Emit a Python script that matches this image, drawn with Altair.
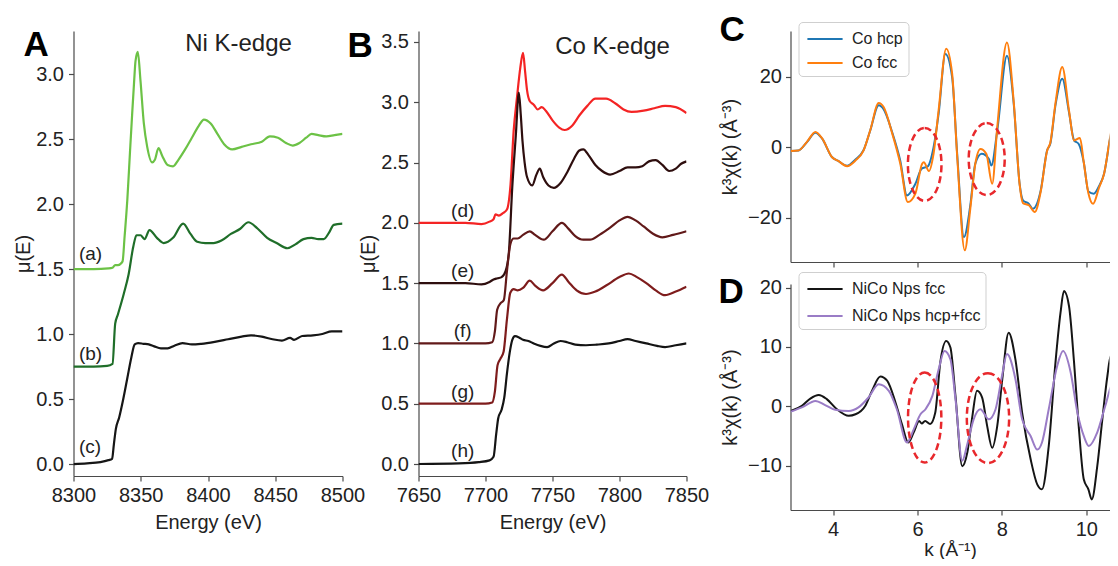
import altair as alt
import pandas as pd

FONT = "Liberation Sans"
INK = "#222222"
AXIS_COLOR = "#4a4a4a"

# ---------------- Panel A : Ni K-edge ----------------
a_E = [8300, 8315, 8326, 8329, 8331, 8333, 8335, 8336.5, 8338, 8340, 8342, 8343.6, 8345, 8346.1, 8347.8,
       8349.8, 8352.3, 8354.8, 8358.5, 8360.5, 8363.2, 8366, 8370, 8374, 8378, 8383, 8388, 8393, 8397, 8402,
       8407, 8412, 8418, 8425, 8432, 8440, 8446, 8452, 8458, 8463, 8468, 8473, 8477, 8482, 8488, 8494, 8500]
a_mu = [1.50, 1.50, 1.505, 1.51, 1.53, 1.53, 1.54, 1.56, 1.75, 2.03, 2.40, 2.69, 2.93, 3.10, 3.17,
        2.95, 2.62, 2.44, 2.32, 2.34, 2.43, 2.37, 2.30, 2.29, 2.34, 2.42, 2.51, 2.60, 2.65, 2.62,
        2.54, 2.46, 2.42, 2.44, 2.46, 2.48, 2.52, 2.51, 2.47, 2.45, 2.47, 2.51, 2.54, 2.53, 2.52, 2.53, 2.54]
b_E = [8300, 8315, 8325, 8329, 8331, 8333, 8337.4, 8341, 8344.4, 8346.8, 8349.8, 8352.8, 8356.5, 8362,
       8367, 8374, 8381.5, 8387, 8392, 8398, 8404, 8410, 8417, 8424, 8430, 8437, 8444, 8451, 8459, 8465,
       8471, 8477, 8482, 8486, 8490, 8493.5, 8500]
b_mu = [0.75, 0.75, 0.755, 0.77, 1.08, 1.15, 1.31, 1.46, 1.67, 1.76, 1.76, 1.73, 1.80, 1.74,
        1.70, 1.74, 1.85, 1.77, 1.71, 1.70, 1.70, 1.72, 1.77, 1.81, 1.86, 1.81, 1.74, 1.70, 1.66, 1.69,
        1.73, 1.74, 1.73, 1.73, 1.78, 1.84, 1.85]
c_E = [8300, 8310, 8320, 8326, 8328.7, 8330, 8331.5, 8334, 8337, 8340, 8343, 8345.5, 8348, 8352, 8356,
       8360, 8365, 8370, 8375, 8381, 8388, 8395, 8405, 8415, 8425, 8432, 8440, 8448, 8455, 8461, 8464,
       8470, 8478, 8485, 8492, 8500]
c_mu = [0.0, 0.005, 0.015, 0.03, 0.04, 0.15, 0.27, 0.36, 0.50, 0.66, 0.82, 0.92, 0.93, 0.925, 0.92,
        0.905, 0.89, 0.89, 0.91, 0.93, 0.92, 0.925, 0.94, 0.96, 0.98, 0.99, 0.98, 0.96, 0.95, 0.97, 0.955,
        0.985, 0.99, 1.0, 1.02, 1.02]
A_names = ["a", "b", "c"]
A_colors = ["#6cc246", "#1f6e29", "#161616"]
A_xticks = [8300, 8350, 8400, 8450, 8500]
A_yticks = [0.0, 0.5, 1.0, 1.5, 2.0, 2.5, 3.0]
labA_text = ["(a)", "(b)", "(c)"]
labA_E = [8304, 8304, 8304]
labA_mu = [1.615, 0.846, 0.13]
headA = ["Ni K-edge"]
headA_E = [8383]
headA_mu = [3.23]

# ---------------- Panel B : Co K-edge ----------------
d_E = [7650, 7670, 7685, 7697, 7703, 7706, 7707.5, 7710, 7713, 7716, 7718.7, 7721, 7723.5, 7726, 7728,
       7729.6, 7731, 7733, 7736, 7739, 7742, 7745, 7750, 7755, 7759, 7765, 7770, 7776, 7782, 7790,
       7797, 7803, 7809, 7818, 7826, 7834, 7842, 7850]
d_mu = [2.0, 2.0, 2.0, 1.99, 2.01, 2.03, 2.07, 2.06, 2.08, 2.11, 2.32, 2.76, 3.04, 3.29, 3.41,
        3.25, 3.10, 3.01, 2.98, 2.94, 2.96, 2.93, 2.85, 2.79, 2.77, 2.81, 2.89, 2.97, 3.03, 3.03,
        2.99, 2.94, 2.92, 2.93, 2.95, 2.97, 2.96, 2.91]
e_E = [7650, 7670, 7685, 7697, 7703, 7706, 7709, 7712, 7715, 7717.4, 7720, 7722.6, 7724.9, 7726.3,
       7727.6, 7729.2, 7731, 7734.8, 7738, 7740.5, 7743, 7747, 7751, 7756, 7761, 7766, 7770, 7773, 7777,
       7782, 7787, 7793, 7800, 7806, 7812, 7817, 7822, 7827, 7832, 7837, 7842, 7846, 7850]
e_mu = [1.5, 1.5, 1.5, 1.49, 1.51, 1.53, 1.54, 1.55, 1.60, 1.75, 2.30, 2.72, 3.08, 2.90,
        2.68, 2.50, 2.38, 2.31, 2.40, 2.45, 2.38, 2.31, 2.29, 2.33, 2.42, 2.53, 2.60, 2.61, 2.56,
        2.48, 2.43, 2.40, 2.43, 2.46, 2.46, 2.47, 2.51, 2.52, 2.48, 2.43, 2.45, 2.49, 2.51]
f_E = [7650, 7680, 7700, 7705, 7707, 7708.7, 7711, 7713.7, 7716, 7718.7, 7721, 7724, 7728, 7733, 7737,
       7743.5, 7750, 7757, 7762, 7767, 7773, 7778, 7785, 7793, 7800, 7806, 7812, 7818, 7825, 7832, 7840, 7850]
f_mu = [1.0, 1.0, 1.0, 1.01, 1.10, 1.28, 1.33, 1.36, 1.60, 1.83, 1.87, 1.87, 1.90, 1.93, 1.90,
        1.86, 1.93, 2.00, 1.95, 1.89, 1.86, 1.86, 1.90, 1.96, 2.02, 2.05, 2.02, 1.97, 1.91, 1.88, 1.90, 1.93]
g_E = [7650, 7680, 7700, 7705, 7707, 7709, 7711, 7713.5, 7716, 7718.5, 7721, 7724, 7728, 7733, 7737,
       7743, 7750, 7757, 7762, 7768, 7775, 7782, 7790, 7800, 7807, 7813, 7820, 7827, 7834, 7842, 7850]
g_mu = [0.5, 0.5, 0.5, 0.51, 0.60, 0.82, 0.87, 0.93, 1.20, 1.42, 1.45, 1.44, 1.46, 1.52, 1.48,
        1.44, 1.50, 1.57, 1.51, 1.44, 1.41, 1.43, 1.48, 1.55, 1.58, 1.55, 1.50, 1.44, 1.40, 1.43, 1.47]
h_E = [7650, 7680, 7695, 7703, 7706, 7708, 7709.5, 7712, 7714, 7716, 7718, 7720, 7722, 7725, 7728,
       7732, 7736, 7741, 7746, 7751, 7756, 7761, 7767, 7775, 7783, 7792, 7800, 7806, 7812, 7820,
       7828, 7834, 7842, 7850]
h_mu = [0.0, 0.005, 0.015, 0.03, 0.06, 0.25, 0.38, 0.45, 0.55, 0.75, 0.92, 1.03, 1.06, 1.05, 1.03,
        1.02, 1.0, 0.98, 0.97, 1.0, 1.02, 1.01, 0.99, 0.985, 0.99, 1.0, 1.02, 1.035, 1.02, 1.0,
        0.98, 0.97, 0.985, 1.0]
B_names = ["d", "e", "f", "g", "h"]
B_colors = ["#f42424", "#2e0e0e", "#611919", "#7e1c1c", "#141414"]
B_xticks = [7650, 7700, 7750, 7800, 7850]
B_yticks = [0.0, 0.5, 1.0, 1.5, 2.0, 2.5, 3.0, 3.5]
labB_text = ["(d)", "(e)", "(f)", "(g)", "(h)"]
labB_E = [7683, 7683, 7683, 7683, 7683]
labB_mu = [2.10, 1.60, 1.10, 0.60, 0.108]
headB = ["Co K-edge"]
headB_E = [7752]
headB_mu = [3.46]

# ---------------- Panel C : Co references (EXAFS) ----------------
hcp_k = [3.0, 3.18, 3.38, 3.58, 3.74, 3.97, 4.13, 4.33, 4.53, 4.72, 4.88, 5.08, 5.2, 5.4, 5.59, 5.75, 5.95,
         6.1, 6.24, 6.38, 6.5, 6.66, 6.82, 6.94, 7.1, 7.25, 7.37, 7.52, 7.69, 7.75, 7.89, 8.12, 8.28, 8.42,
         8.5, 8.64, 8.73, 8.92, 9.07, 9.15, 9.27, 9.43, 9.59, 9.71, 9.82, 9.94, 10.05, 10.18, 10.3, 10.42,
         10.58, 10.77]
hcp_v = [-1.0, -0.85, 1.5, 4.2, 2.5, -2.7, -3.9, -5.2, -3.4, -0.8, 4.8, 12.0, 10.8, 4.3, -3.7, -13.6, -10.3,
         -6.0, -5.4, 0.0, 9.5, 26.5, 20.0, -1.8, -25.4, -16.5, -4.6, -1.8, -3.2, -5.1, 4.8, 26.0, 12.4, -10.3,
         -15.0, -16.0, -17.4, -12.2, -0.9, 1.2, 12.0, 19.5, 10.0, 2.0, 1.0, -4.2, -12.5, -13.1, -11.0, -7.5,
         3.5, 10.5]
fcc_k = [3.0, 3.18, 3.38, 3.58, 3.74, 3.97, 4.13, 4.33, 4.53, 4.72, 4.88, 5.08, 5.2, 5.4, 5.59, 5.77, 5.95,
         6.11, 6.15, 6.27, 6.38, 6.5, 6.68, 6.82, 6.94, 7.12, 7.25, 7.37, 7.49, 7.63, 7.77, 7.89, 8.12, 8.28,
         8.42, 8.5, 8.64, 8.78, 8.92, 9.07, 9.15, 9.27, 9.43, 9.59, 9.71, 9.85, 9.94, 10.05, 10.16, 10.3,
         10.42, 10.58, 10.77]
fcc_v = [-1.0, -0.85, 1.6, 4.4, 2.6, -2.7, -3.9, -5.3, -3.7, -0.9, 4.9, 12.6, 11.4, 4.0, -4.5, -15.5, -13.1,
         -4.6, -4.2, -6.7, -1.8, 10.5, 28.0, 21.0, -2.5, -29.2, -17.5, -4.6, -0.4, -1.8, -10.3, 5.8, 29.8, 13.0,
         -10.5, -15.8, -16.4, -18.3, -12.5, -1.0, 1.5, 12.6, 22.8, 10.5, 2.0, 2.7, -4.2, -13.0, -16.0, -11.5,
         -7.5, 3.9, 13.8]
C_names = ["Co hcp", "Co fcc"]
C_colors = ["#1f77b4", "#ff7f0e"]
ellC_k = [6.17, 7.64]
ellC_v = [-4.8, -3.3]

# ---------------- Panel D : NiCo nanoparticles (EXAFS) ----------------
nfcc_k = [3.0, 3.26, 3.46, 3.66, 3.85, 4.09, 4.37, 4.53, 4.76, 4.92, 5.12, 5.28, 5.48, 5.63, 5.78, 5.91,
          6.04, 6.1, 6.18, 6.3, 6.42, 6.54, 6.68, 6.78, 6.9, 7.06, 7.18, 7.29, 7.41, 7.53, 7.65, 7.77, 7.89,
          8.01, 8.16, 8.32, 8.48, 8.68, 8.84, 8.95, 9.11, 9.27, 9.39, 9.47, 9.59, 9.71, 9.82, 9.94, 10.05,
          10.13, 10.26, 10.38, 10.5, 10.58, 10.7, 10.77]
nfcc_v = [-0.8, 0.06, 1.3, 1.9, 1.2, -0.5, -1.6, -1.35, 0.06, 2.6, 5.0, 4.3, 0.6, -3.0, -6.1, -4.4,
          -2.5, -2.9, -2.5, -3.0, -1.1, 7.4, 11.0, 9.9, 1.7, -10.1, -7.8, -2.2, 2.6, 1.5, -3.3, -7.0, -3.3,
          4.6, 12.4, 7.9, -1.1, -8.9, -13.2, -14.0, -6.7, 7.4, 15.8, 19.4, 16.9, 7.4, -3.3, -12.3, -14.0,
          -15.7, -10.1, -2.2, 5.1, 8.5, 6.2, 5.1]
nmix_k = [3.0, 3.26, 3.58, 3.81, 4.05, 4.37, 4.6, 4.84, 5.08, 5.32, 5.51, 5.75, 5.91, 6.07, 6.19, 6.35,
          6.5, 6.64, 6.78, 6.9, 7.06, 7.18, 7.33, 7.49, 7.69, 7.85, 8.01, 8.12, 8.32, 8.48, 8.68, 8.84,
          8.95, 9.11, 9.31, 9.45, 9.63, 9.79, 9.94, 10.06, 10.26, 10.46, 10.62, 10.77]
nmix_v = [-0.9, -0.2, 0.9, 0.2, -0.6, -0.8, -0.2, 1.5, 3.7, 2.6, -0.5, -6.1, -3.9, -1.35, -0.5, 1.7,
          6.2, 9.3, 7.9, 1.2, -9.2, -6.4, -2.2, -0.5, -2.2, -0.5, 5.4, 8.8, 4.6, -2.2, -5.0, -7.3,
          -6.1, -0.5, 6.8, 9.3, 5.7, -1.1, -5.0, -6.7, -4.4, 0.3, 3.7, 2.9]
D_names = ["NiCo Nps fcc", "NiCo Nps hcp+fcc"]
D_colors = ["#151515", "#9a7cc6"]
ellD_k = [6.17, 7.67]
ellD_v = [-1.9, -2.0]

K_ticks = [4, 6, 8, 10]
C_yticks = [-20, 0, 20]
D_yticks = [-10, 0, 10, 20]
panel_letters = ["A", "B", "C", "D"]

# ---------------- helpers ----------------
RED = "#e8282c"


def ellipse_path(rx):
    return f"M0,-1A{rx},1 0 1,1 0,1A{rx},1 0 1,1 0,-1Z"


def letter(t, dx, dy):
    return alt.Chart(pd.DataFrame({"t": [t]})).mark_text(
        align="left", baseline="top", font=FONT, fontSize=35, fontWeight="bold", color="black"
    ).encode(x=alt.value(dx), y=alt.value(dy), text="t:N")


def marker(dx, dy):
    return alt.Chart(pd.DataFrame({"m": [0]})).mark_point(
        size=1, opacity=0, filled=True, strokeWidth=0
    ).encode(x=alt.value(dx), y=alt.value(dy))


def leg(ly, rowpad):
    return alt.Legend(
        orient="none", legendX=8, legendY=ly, title=None,
        symbolType="M-1.6,0H1.6", symbolSize=484, symbolStrokeWidth=2,
        symbolOffset=9.5, labelOffset=15, padding=5, rowPadding=rowpad,
        strokeColor="#cfcfcf", cornerRadius=4, fillColor="white",
        labelFont=FONT, labelFontSize=16, labelColor=INK,
    )


# ---------------- Panel A chart ----------------
dfA = pd.concat([pd.DataFrame({"eA": x, "muA": y, "sA": n})
                 for x, y, n in [(a_E, a_mu, "a"), (b_E, b_mu, "b"), (c_E, c_mu, "c")]])
xA = alt.X("eA:Q", scale=alt.Scale(domain=[8300, 8500], nice=False, zero=False),
           axis=alt.Axis(values=A_xticks, format="d", title="Energy (eV)", titlePadding=7, labelPadding=4))
yA = alt.Y("muA:Q", scale=alt.Scale(domain=[-0.092, 3.331], nice=False, zero=False),
           axis=alt.Axis(values=A_yticks, format=".1f", title="μ(E)", titlePadding=2, labelPadding=5))
linesA = alt.Chart(dfA).mark_line(strokeWidth=2.2, clip=True, interpolate="monotone").encode(
    x=xA, y=yA, color=alt.Color("sA:N", scale=alt.Scale(domain=A_names, range=A_colors), legend=None))
labelsA = alt.Chart(pd.DataFrame({"eA": labA_E, "muA": labA_mu, "t": labA_text})).mark_text(
    align="left", baseline="middle", font=FONT, fontSize=19, color=INK).encode(x=xA, y=yA, text="t:N")
headA_c = alt.Chart(pd.DataFrame({"eA": headA_E, "muA": headA_mu, "t": headA})).mark_text(
    align="left", baseline="middle", font=FONT, fontSize=24, color=INK).encode(x=xA, y=yA, text="t:N")
chartA = alt.layer(linesA, labelsA, headA_c, letter(panel_letters[0], -50, -3), marker(-62, -9)).properties(
    width=269, height=445)

# ---------------- Panel B chart ----------------
dfB = pd.concat([pd.DataFrame({"eB": x, "muB": y, "sB": n})
                 for x, y, n in [(d_E, d_mu, "d"), (e_E, e_mu, "e"), (f_E, f_mu, "f"),
                                 (g_E, g_mu, "g"), (h_E, h_mu, "h")]])
xB = alt.X("eB:Q", scale=alt.Scale(domain=[7650, 7850], nice=False, zero=False),
           axis=alt.Axis(values=B_xticks, format="d", title="Energy (eV)", titlePadding=7, labelPadding=4))
yB = alt.Y("muB:Q", scale=alt.Scale(domain=[-0.0995, 3.591], nice=False, zero=False),
           axis=alt.Axis(values=B_yticks, format=".1f", title="μ(E)", titlePadding=2, labelPadding=5))
linesB = alt.Chart(dfB).mark_line(strokeWidth=2.2, clip=True, interpolate="monotone").encode(
    x=xB, y=yB, color=alt.Color("sB:N", scale=alt.Scale(domain=B_names, range=B_colors), legend=None))
labelsB = alt.Chart(pd.DataFrame({"eB": labB_E, "muB": labB_mu, "t": labB_text})).mark_text(
    align="center", baseline="middle", font=FONT, fontSize=19, color=INK).encode(x=xB, y=yB, text="t:N")
headB_c = alt.Chart(pd.DataFrame({"eB": headB_E, "muB": headB_mu, "t": headB})).mark_text(
    align="left", baseline="middle", font=FONT, fontSize=24, color=INK).encode(x=xB, y=yB, text="t:N")
chartB = alt.layer(linesB, labelsB, headB_c, letter(panel_letters[1], -71, -2), marker(290, 100)).properties(
    width=268, height=445)

# ---------------- Panel C chart ----------------
xC = alt.X("kC:Q", scale=alt.Scale(domain=[2.99, 10.55], nice=False, zero=False),
           axis=alt.Axis(values=K_ticks, labels=False, title=None))
yC = alt.Y("vC:Q", scale=alt.Scale(domain=[-32.5, 33.05], nice=False, zero=False),
           axis=alt.Axis(values=C_yticks, title="k³χ(k) (Å⁻³)", titlePadding=7, labelPadding=4,
                         titleFontSize=20))
colC = alt.Color("sC:N", scale=alt.Scale(domain=C_names, range=C_colors), legend=leg(-9, 4))
lineC1 = alt.Chart(pd.DataFrame({"kC": hcp_k, "vC": hcp_v, "sC": C_names[0]})).mark_line(
    strokeWidth=2, clip=True, interpolate="monotone").encode(x=xC, y=yC, color=colC)
lineC2 = alt.Chart(pd.DataFrame({"kC": fcc_k, "vC": fcc_v, "sC": C_names[1]})).mark_line(
    strokeWidth=2, clip=True, interpolate="monotone").encode(x=xC, y=yC, color=colC)
ellC = [alt.Chart(pd.DataFrame({"kC": [ellC_k[i]], "vC": [ellC_v[i]]})).mark_point(
    shape=ellipse_path(r), size=s, filled=False, color=RED, opacity=1, strokeWidth=2.5,
    strokeDash=[7, 4]).encode(x=xC, y=yC) for i, (r, s) in enumerate([(0.46, 73 ** 2), (0.5, 72 ** 2)])]
chartC = alt.layer(lineC1, lineC2, *ellC, letter(panel_letters[2], -71, -18), marker(-77, -22)).properties(
    width=319, height=231)

# ---------------- Panel D chart ----------------
xD = alt.X("kD:Q", scale=alt.Scale(domain=[2.99, 10.55], nice=False, zero=False),
           axis=alt.Axis(values=K_ticks, format="d", title="k (Å⁻¹)", titlePadding=1, labelPadding=4,
                         titleFontSize=19))
yD = alt.Y("vD:Q", scale=alt.Scale(domain=[-17.48, 20.6], nice=False, zero=False),
           axis=alt.Axis(values=D_yticks, title="k³χ(k) (Å⁻³)", titlePadding=7, labelPadding=4,
                         titleFontSize=20))
colD = alt.Color("sD:N", scale=alt.Scale(domain=D_names, range=D_colors), legend=leg(-12, 7))
lineD1 = alt.Chart(pd.DataFrame({"kD": nfcc_k, "vD": nfcc_v, "sD": D_names[0]})).mark_line(
    strokeWidth=2, clip=True, interpolate="monotone").encode(x=xD, y=yD, color=colD)
lineD2 = alt.Chart(pd.DataFrame({"kD": nmix_k, "vD": nmix_v, "sD": D_names[1]})).mark_line(
    strokeWidth=2, clip=True, interpolate="monotone").encode(x=xD, y=yD, color=colD)
ellD = [alt.Chart(pd.DataFrame({"kD": [ellD_k[i]], "vD": [ellD_v[i]]})).mark_point(
    shape=ellipse_path(r), size=s, filled=False, color=RED, opacity=1, strokeWidth=2.5,
    strokeDash=[7, 4]).encode(x=xD, y=yD) for i, (r, s) in enumerate([(0.37, 90 ** 2), (0.47, 90 ** 2)])]
chartD = alt.layer(lineD1, lineD2, *ellD, letter(panel_letters[3], -72, -9)).properties(
    width=319, height=226)

# ---------------- layout ----------------
AB = alt.hconcat(chartA, chartB, spacing=76, bounds="flush").resolve_scale(color="independent").resolve_legend(
    color="independent")
CD = alt.vconcat(chartC, chartD, spacing=22, bounds="flush").resolve_scale(color="independent").resolve_legend(
    color="independent")
chart = alt.hconcat(AB, CD, spacing=3).resolve_scale(color="independent").resolve_legend(
    color="independent").properties(
    padding={"left": 2.5, "top": 0, "right": 0, "bottom": 0}
).configure_view(stroke=None).configure_axis(
    domainColor=AXIS_COLOR, domainWidth=1.2, tickColor=AXIS_COLOR, tickWidth=1.2, tickSize=5,
    labelFont=FONT, labelFontSize=20, labelColor=INK, labelFlush=False,
    titleFont=FONT, titleFontSize=20, titleFontWeight="normal", titleColor=INK, grid=False,
)

chart.save("out.html", embed_options={"renderer": "svg", "actions": False})
